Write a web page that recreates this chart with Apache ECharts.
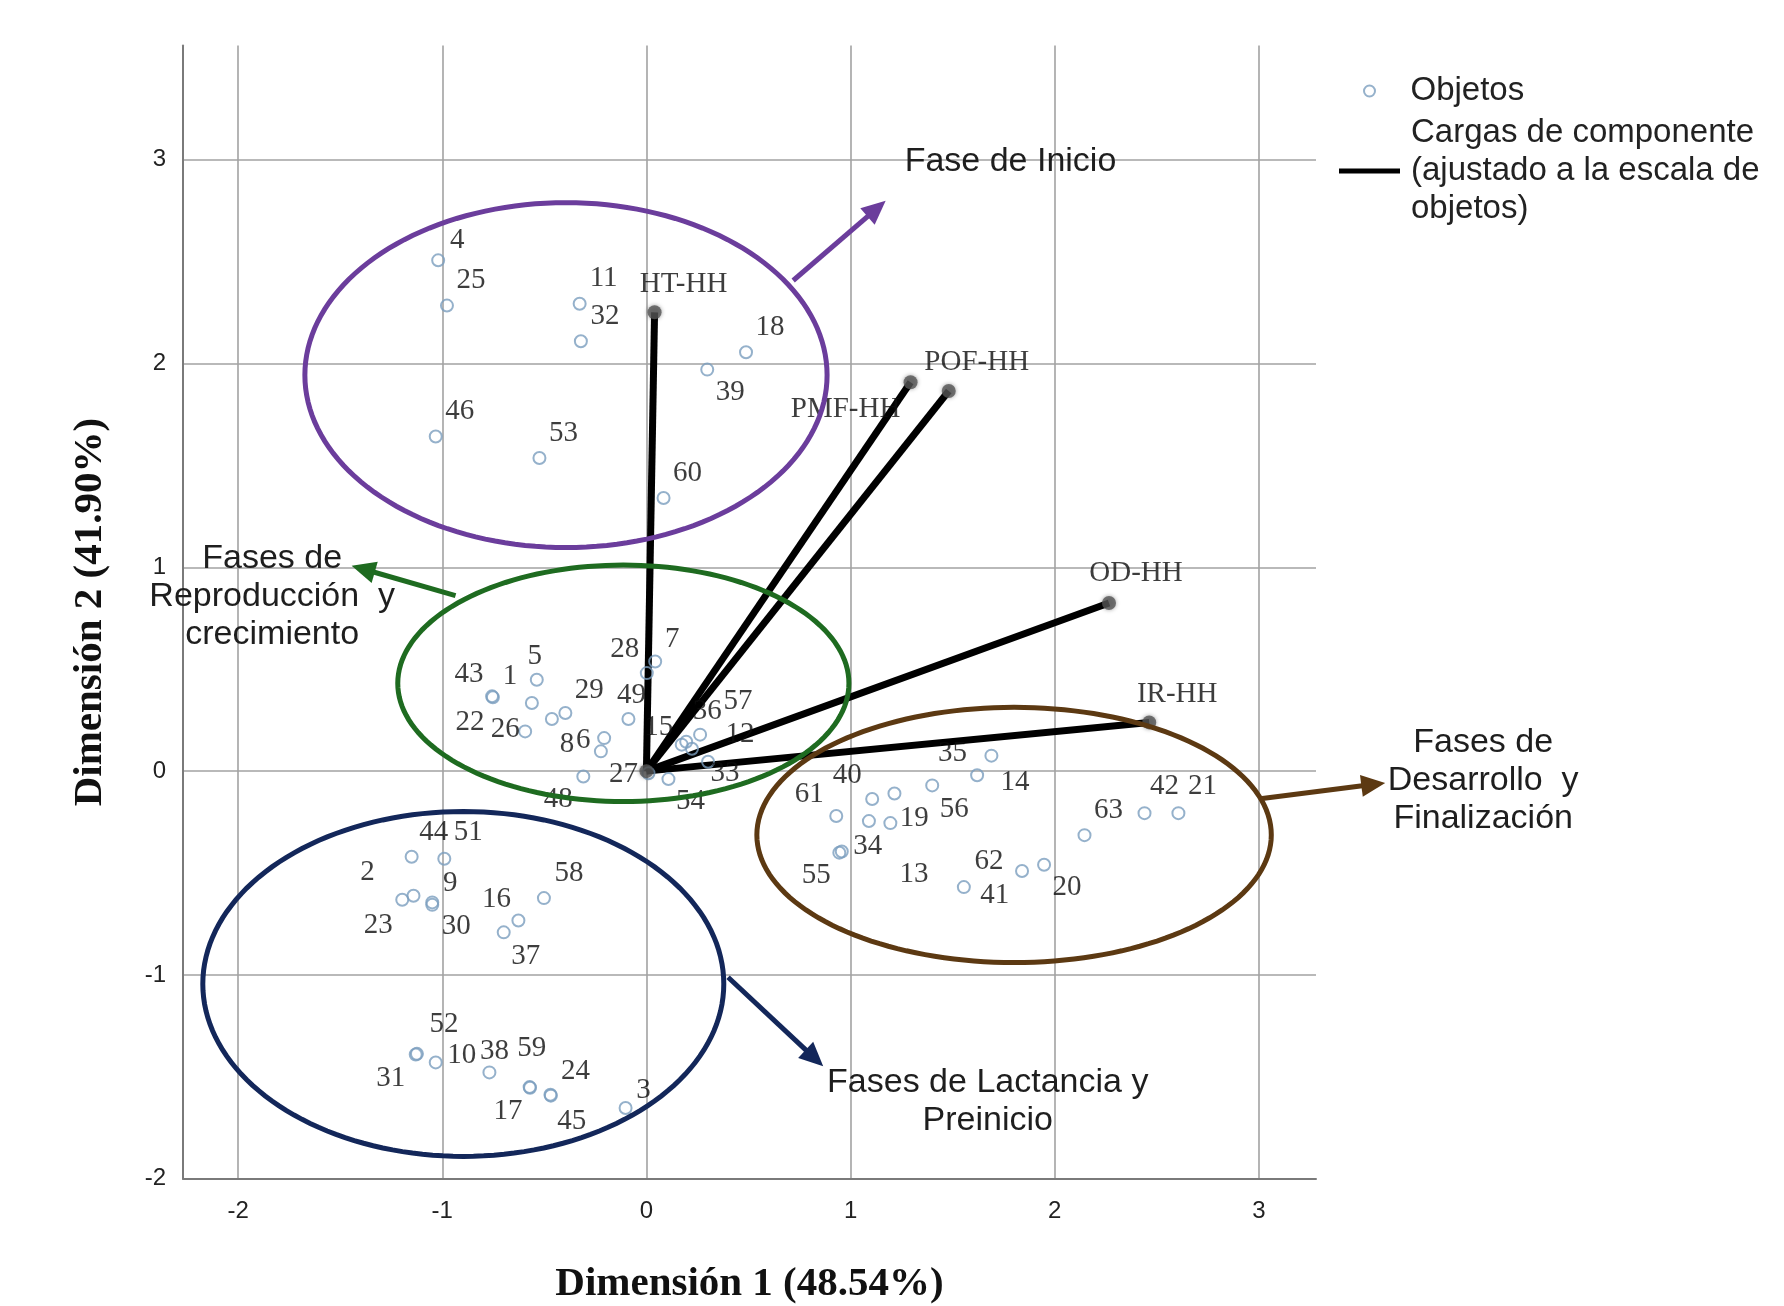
<!DOCTYPE html>
<html>
<head>
<meta charset="utf-8">
<title>Biplot</title>
<script src="https://cdn.jsdelivr.net/npm/echarts@6.0.0/dist/echarts.min.js"></script>
<style>
html, body { margin: 0; padding: 0; background: #fff; }
#chartMain { width: 1784px; height: 1306px; }
</style>
</head>
<body>
<div id="chartMain"></div>
<script>
/*** 数据: 对象 (Objetos) ***/
var objIds = ['4', '25', '11', '32', '18', '39', '46', '53', '60',
    '43', '22', '1', '5', '26', '29', '47', '49', '7', '28', '6', '8', '15', '36', '57', '12', '27', '48', '54', '33',
    '35', '14', '56', '40', '50', '19', '13', '61', '34', '55', '62', '20', '41', '63', '42', '21',
    '44', '51', '2', '23', '9', '30', '16', '37', '58', '52', '31', '10', '38', '59', '17', '24', '45', '3'];
var objX = [-1.02, -0.977, -0.327, -0.321, 0.488, 0.298, -1.032, -0.524, 0.084,
    -0.756, -0.752, -0.561, -0.537, -0.594, -0.397, -0.463, -0.088, 0.043, 0.002, -0.207, -0.223, 0.173, 0.195, 0.263, 0.223, 0.01, -0.309, 0.108, 0.302,
    1.69, 1.62, 1.40, 1.106, 1.215, 1.195, 1.09, 0.93, 0.957, 0.945, 1.84, 1.948, 1.555, 2.146, 2.44, 2.606,
    -1.15, -0.99, -1.141, -1.196, -1.049, -1.049, -0.627, -0.699, -0.502, -1.124, -1.13, -1.032, -0.769, -0.572, -0.57, -0.47, -0.468, -0.102];
var objY = [2.506, 2.284, 2.293, 2.109, 2.055, 1.97, 1.642, 1.536, 1.34,
    0.367, 0.362, 0.334, 0.448, 0.195, 0.285, 0.256, 0.256, 0.538, 0.481, 0.162, 0.097, 0.130, 0.144, 0.179, 0.110, -0.01, -0.026, -0.039, 0.046,
    0.076, -0.02, -0.07, -0.137, -0.11, -0.255, -0.245, -0.22, -0.394, -0.40, -0.49, -0.459, -0.569, -0.314, -0.206, -0.206,
    -0.42, -0.43, -0.611, -0.631, -0.644, -0.656, -0.733, -0.791, -0.623, -1.387, -1.39, -1.429, -1.478, -1.55, -1.553, -1.588, -1.592, -1.653];

/*** 数据: 成分载荷 (Cargas de componente) ***/
var loadNames = ['HT-HH', 'PMF-HH', 'POF-HH', 'OD-HH', 'IR-HH'];
var loadX = [0.04, 1.294, 1.481, 2.266, 2.463];
var loadY = [2.251, 1.908, 1.865, 0.825, 0.239];

/*** 刻度 ***/
var xTicks = [-2, -1, 0, 1, 2, 3];
var yTicks = [-2, -1, 0, 1, 2, 3];

/*** 注释: 椭圆与箭头 (数据单位) ***/
var ringCenterX = [-0.394, -0.113, 1.801, -0.897];
var ringCenterY = [1.943, 0.431, -0.313, -1.044];
var ringRadX = [1.279, 1.105, 1.260, 1.276];
var ringRadY = [0.846, 0.580, 0.626, 0.846];
var arrowFromX = [0.719, -0.935, 3.007, 0.400];
var arrowFromY = [2.407, 0.861, -0.135, -1.011];
var arrowToX = [1.172, -1.444, 3.619, 0.866];
var arrowToY = [2.798, 1.008, -0.058, -1.448];
var noteTexts = ['Fase de Inicio', 'Fases de\nReproducción  y\ncrecimiento',
    'Fases de\nDesarrollo  y\nFinalización', 'Fases de Lactancia y\nPreinicio'];
var noteX = [1.265, -1.833, 4.099, 1.672];
var noteY = [2.992, 0.857, -0.045, -1.621];

/*** 样式 ***/
var ringColors = ['#6b3d9c', '#1e6b20', '#5c3912', '#13275a'];
var noteAlign = ['left', 'center', 'center', 'center'];
var objColor = '#7b9dbe';
var loadLegendName = 'Cargas de componente\n(ajustado a la escala de\nobjetos)';
var defaultOffset = [24, -25];
var labelOffset = {
    '4': [19, -20], '39': [23, 23],
    '43': [-23, -22], '22': [-23, 25], '1': [-22, -27], '5': [-2, -23], '26': [-20, -2], '29': [24, -23],
    '49': [3, -24], '7': [17, -22], '28': [-22, -24], '6': [-21, 2], '8': [-34, -7], '15': [-23, -17],
    '36': [21, -30], '57': [38, -33], '12': [48, -14], '27': [-25, 1], '48': [-25, 23], '54': [22, 22], '33': [17, 12],
    '35': [-39, -2], '14': [38, 7], '56': [22, 24], '40': [-25, -24], '19': [24, -5], '13': [45, 53],
    '61': [-27, -22], '34': [26, -5], '55': [-23, 23], '62': [-33, -10], '20': [23, 23], '41': [31, 8],
    '63': [24, -25], '42': [20, -27], '21': [24, -27],
    '44': [22, -24], '51': [24, -26], '2': [-46, -23], '23': [-24, 26], '9': [18, -19], '30': [24, 22],
    '16': [-22, -21], '37': [22, 24], '58': [25, -25], '52': [27, -29], '31': [-25, 24], '10': [26, -7],
    '38': [5, -21], '59': [2, -39], '17': [-22, 24], '24': [25, -23], '45': [21, 26], '3': [18, -18],
    'HT-HH': [29, -28], 'PMF-HH': [-65, 27], 'POF-HH': [28, -29], 'OD-HH': [27, -30], 'IR-HH': [28, -28]
};
var noLabel = ['47', '50'];

var myChart = echarts.init(document.getElementById('chartMain'));

// 对象散点
var objData = [];
for (var i = 0; i < objIds.length; i++) {
    var item = { name: objIds[i], value: [objX[i], objY[i]] };
    if (noLabel.indexOf(objIds[i]) >= 0) {
        item.label = { show: false };
    } else if (labelOffset[objIds[i]]) {
        item.label = { offset: labelOffset[objIds[i]] };
    }
    objData.push(item);
}

// 载荷线与端点
var lineData = [];
var endData = [{ name: '', value: [0, 0], label: { show: false } }];
for (var j = 0; j < loadNames.length; j++) {
    lineData.push({ coords: [[0, 0], [loadX[j], loadY[j]]] });
    endData.push({ name: loadNames[j], value: [loadX[j], loadY[j]], label: { offset: labelOffset[loadNames[j]] } });
}

var ringData = [];
for (var k = 0; k < ringCenterX.length; k++) {
    ringData.push([ringCenterX[k], ringCenterY[k], ringRadX[k], ringRadY[k]]);
}
var arrowData = [];
for (var a = 0; a < arrowFromX.length; a++) {
    arrowData.push([arrowFromX[a], arrowFromY[a], arrowToX[a], arrowToY[a]]);
}
var noteData = [];
for (var n = 0; n < noteX.length; n++) {
    noteData.push([noteX[n], noteY[n]]);
}

var serifLabel = {
    show: true,
    position: 'inside',
    offset: defaultOffset,
    formatter: '{b}',
    fontFamily: 'Liberation Serif',
    fontSize: 29,
    color: '#0d0d0d'
};
var legendText = {
    fontFamily: 'Liberation Sans',
    fontSize: 33,
    lineHeight: 38,
    color: '#222',
    padding: [0, 0, 0, 6]
};

function renderRing(params, api) {
    var c = api.coord([api.value(0), api.value(1)]);
    var ex = api.coord([api.value(0) + api.value(2), api.value(1)]);
    var ey = api.coord([api.value(0), api.value(1) + api.value(3)]);
    var rx = Math.abs(ex[0] - c[0]);
    var ry = Math.abs(c[1] - ey[1]);
    var pts = [];
    for (var t = 0; t < 160; t++) {
        var ang = t / 160 * Math.PI * 2;
        pts.push([c[0] + rx * Math.cos(ang), c[1] + ry * Math.sin(ang)]);
    }
    return {
        type: 'polygon',
        shape: { points: pts },
        style: { fill: 'none', stroke: ringColors[params.dataIndex], lineWidth: 5 }
    };
}

function renderArrow(params, api) {
    var p0 = api.coord([api.value(0), api.value(1)]);
    var p1 = api.coord([api.value(2), api.value(3)]);
    var dx = p1[0] - p0[0], dy = p1[1] - p0[1];
    var len = Math.sqrt(dx * dx + dy * dy);
    var ux = dx / len, uy = dy / len;
    var headLen = 24, headW = 11;
    var bx = p1[0] - ux * headLen, by = p1[1] - uy * headLen;
    var col = ringColors[params.dataIndex];
    return {
        type: 'group',
        children: [
            { type: 'line', shape: { x1: p0[0], y1: p0[1], x2: bx + ux * 3, y2: by + uy * 3 }, style: { stroke: col, lineWidth: 5 } },
            { type: 'polygon', shape: { points: [[p1[0], p1[1]], [bx - uy * headW, by + ux * headW], [bx + uy * headW, by - ux * headW]] }, style: { fill: col } }
        ]
    };
}

function renderNote(params, api) {
    var p = api.coord([api.value(0), api.value(1)]);
    return {
        type: 'text',
        x: p[0],
        y: p[1],
        style: {
            text: noteTexts[params.dataIndex],
            fontFamily: 'Liberation Sans',
            fontSize: 34,
            lineHeight: 38,
            fill: '#1e1e1e',
            textAlign: noteAlign[params.dataIndex],
            textVerticalAlign: 'middle'
        }
    };
}

var option = {
    animation: false,
    backgroundColor: '#fff',
    grid: { left: 183, right: 468, top: 45.5, bottom: 127.2, containLabel: false, outerBoundsMode: 'none' },
    legend: [{
        data: [{ name: 'Objetos', icon: 'circle' }],
        left: 1363, top: 72, padding: 0,
        itemWidth: 60, itemHeight: 11,
        selectedMode: false,
        itemStyle: { color: 'rgba(0,0,0,0)', borderColor: objColor, borderWidth: 2 },
        textStyle: legendText
    }, {
        data: [{ name: loadLegendName, icon: 'rect' }],
        left: 1339, top: 114, padding: 0,
        itemWidth: 61, itemHeight: 5,
        selectedMode: false,
        itemStyle: { color: '#000', borderWidth: 0 },
        textStyle: legendText
    }],
    xAxis: {
        type: 'value',
        min: -2.27, max: 3.28, splitNumber: 5,
        name: 'Dimensión 1 (48.54%)',
        nameLocation: 'middle',
        nameGap: 85,
        nameTextStyle: { fontFamily: 'Liberation Serif', fontWeight: 'bold', fontSize: 41, color: '#111' },
        axisLine: { show: true, onZero: false, lineStyle: { color: '#7a7a7a', width: 2 } },
        axisTick: { show: false },
        axisLabel: {
            margin: 21, fontSize: 24, color: '#222', fontFamily: 'Liberation Sans',
            showMinLabel: false, showMaxLabel: false,
            formatter: function (v) { return xTicks.indexOf(v) >= 0 ? String(v) : ''; }
        },
        splitLine: { show: true, showMinLine: false, showMaxLine: false, lineStyle: { color: '#a2a2a2', width: 1.6 } }
    },
    yAxis: {
        type: 'value',
        min: -2, max: 3.56, splitNumber: 5,
        name: 'Dimensión 2 (41.90%)',
        nameLocation: 'middle',
        nameGap: 72,
        nameRotate: 90,
        nameTextStyle: { fontFamily: 'Liberation Serif', fontWeight: 'bold', fontSize: 41, color: '#111' },
        axisLine: { show: true, onZero: false, lineStyle: { color: '#7a7a7a', width: 2 } },
        axisTick: { show: false },
        axisLabel: {
            margin: 17, fontSize: 24, color: '#222', fontFamily: 'Liberation Sans',
            showMinLabel: true, showMaxLabel: false,
            formatter: function (v) { return yTicks.indexOf(v) >= 0 ? String(v) : ''; }
        },
        splitLine: { show: true, showMinLine: false, showMaxLine: false, lineStyle: { color: '#a2a2a2', width: 1.6 } }
    },
    series: [{
        name: loadLegendName,
        type: 'lines',
        coordinateSystem: 'cartesian2d',
        polyline: false,
        symbol: ['none', 'none'],
        lineStyle: { color: '#000', width: 7, opacity: 1, curveness: 0 },
        silent: true,
        z: 2,
        data: lineData
    }, {
        name: 'Objetos',
        type: 'scatter',
        symbol: 'circle',
        symbolSize: 12,
        itemStyle: { color: 'rgba(0,0,0,0)', borderColor: objColor, borderWidth: 2 },
        label: serifLabel,
        silent: true,
        z: 3,
        data: objData
    }, {
        name: 'loadEnds',
        type: 'scatter',
        symbol: 'circle',
        symbolSize: 14,
        itemStyle: { color: '#555', shadowBlur: 4, shadowColor: 'rgba(0,0,0,0.45)' },
        label: serifLabel,
        silent: true,
        z: 4,
        data: endData
    }, {
        name: 'rings',
        type: 'custom',
        renderItem: renderRing,
        silent: true,
        z: 10,
        data: ringData
    }, {
        name: 'arrows',
        type: 'custom',
        renderItem: renderArrow,
        silent: true,
        z: 10,
        data: arrowData
    }, {
        name: 'notes',
        type: 'custom',
        renderItem: renderNote,
        silent: true,
        z: 10,
        data: noteData
    }]
};

myChart.setOption(option);
</script>
</body>
</html>
